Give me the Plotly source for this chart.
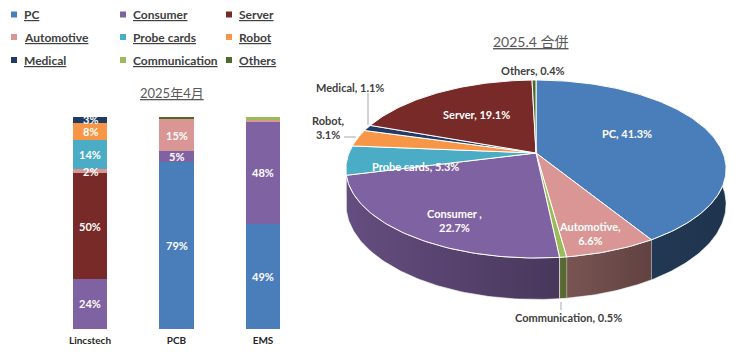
import numpy as np
import plotly.graph_objects as go

# ---------------- data ----------------
series_names = ["PC", "Consumer", "Server", "Automotive", "Probe cards",
                "Robot", "Medical", "Communication", "Others"]
series_colors = ["#4a7ebb", "#7f62a1", "#772a27", "#d99694", "#4bacc6",
                 "#f79646", "#1f3b66", "#9bbb59", "#4f6a28"]

bar_title = "2025年4月"
bar_categories = ["Lincstech", "PCB", "EMS"]
bar_pc = [0, 79, 49]
bar_consumer = [24, 5, 48]
bar_server = [50, 0, 0]
bar_automotive = [2, 15, 0.7]
bar_probe_cards = [14, 0, 0]
bar_robot = [8, 0, 0]
bar_medical = [3, 0, 0]
bar_communication = [0, 0, 1.6]
bar_others = [0, 1.3, 0]
bar_values = [bar_pc, bar_consumer, bar_server, bar_automotive, bar_probe_cards,
              bar_robot, bar_medical, bar_communication, bar_others]

pie_title = "2025.4 合併"
pie_labels = ["PC", "Automotive", "Communication", "Consumer", "Probe cards",
              "Robot", "Medical", "Server", "Others"]
pie_values = [41.3, 6.6, 0.5, 22.7, 5.3, 3.1, 1.1, 19.1, 0.4]
pie_texts = ["PC, 41.3%", "Automotive,<br>6.6%", "Communication, 0.5%",
             "Consumer ,<br>22.7%", "Probe cards, 5.3%", "Robot,<br>3.1%",
             "Medical, 1.1%", "Server, 19.1%", "Others, 0.4%"]

# ---------------- styling / layout helpers ----------------
W, H = 740, 354
FONT = "Lato, 'Noto Sans CJK TC', 'Noto Sans CJK SC', sans-serif"
DARK = "#404040"
color_of = dict(zip(series_names, series_colors))


def shade(hexc, f):
    h = hexc.lstrip("#")
    r, g, b = (int(h[i:i + 2], 16) for i in (0, 2, 4))
    return "rgb(%d,%d,%d)" % (r * f, g * f, b * f)


fig = go.Figure()

# ---------------- stacked bars ----------------
totals = np.sum(np.array(bar_values, dtype=float), axis=0)
for name, vals in zip(series_names, bar_values):
    fig.add_trace(go.Bar(
        x=bar_categories, y=vals, name=name, marker_color=color_of[name],
        marker_line_width=0, width=0.4, xaxis="x2", yaxis="y2",
        showlegend=False, hoverinfo="skip"))

annotations = []
cum = np.zeros(len(bar_categories))
for name, vals in zip(series_names, bar_values):
    v = np.array(vals, dtype=float)
    pct = v / totals * 100
    for i, cat in enumerate(bar_categories):
        if v[i] >= 2:
            annotations.append(dict(
                x=cat, y=cum[i] + pct[i] / 2, xref="x2", yref="y2",
                text="<b>%d%%</b>" % round(v[i]), showarrow=False,
                font=dict(family=FONT, size=11, color="white")))
    cum += pct

# ---------------- 3D-looking pie (projected ellipse) ----------------
cx, cy = 536.0, 153.0
Rx, Ry, k, D = 187.0, 86.1, 0.18, 34.0
tot = float(sum(pie_values))


def proj(theta):
    u, v = np.sin(theta), np.cos(theta)
    s = 1.0 / (1.0 + k * v)
    return cx + Rx * u * s, cy - Ry * v * s, s


bounds = np.concatenate([[0.0], np.cumsum(pie_values) / tot]) * 2 * np.pi
slices = []
for i, name in enumerate(pie_labels):
    t1, t2 = bounds[i], bounds[i + 1]
    n = max(4, int((t2 - t1) / (2 * np.pi) * 360))
    th = np.linspace(t1, t2, n)
    slices.append((name, th, np.cos((t1 + t2) / 2)))

# side faces, back first
for name, th, vmid in sorted(slices, key=lambda s: -s[2]):
    x, y, s = proj(th)
    xs = np.concatenate([x, x[::-1]])
    ys = np.concatenate([y, (y + D * s)[::-1]])
    c = color_of[name]
    fig.add_trace(go.Scatter(
        x=xs, y=ys, mode="lines", fill="toself",
        fillgradient=dict(type="horizontal", start=345, stop=725,
                          colorscale=[[0, shade(c, 0.8)], [0.57, shade(c, 0.57)],
                                      [0.8, shade(c, 0.45)], [1, shade(c, 0.42)]]),
        line=dict(color="rgba(255,255,255,0.8)", width=0.8),
        showlegend=False, hoverinfo="skip", xaxis="x", yaxis="y"))

# top faces
for name, th, vmid in slices:
    x, y, s = proj(th)
    xs = np.concatenate([[cx], x, [cx]])
    ys = np.concatenate([[cy], y, [cy]])
    fig.add_trace(go.Scatter(
        x=xs, y=ys, mode="lines", fill="toself", fillcolor=color_of[name],
        line=dict(color="white", width=1), showlegend=False,
        hoverinfo="skip", xaxis="x", yaxis="y"))

# pie labels
pie_label_pos = {
    "PC": (627, 133, "white"), "Automotive": (590, 233, "white"),
    "Communication": (568, 317, DARK), "Consumer": (454, 220, "white"),
    "Probe cards": (415, 166, "white"), "Robot": (328, 127, DARK),
    "Medical": (350, 87, DARK), "Server": (476, 114, "white"),
    "Others": (533, 70, DARK)}
for name, txt in zip(pie_labels, pie_texts):
    px_, py_, col = pie_label_pos[name]
    annotations.append(dict(
        x=px_, y=py_, xref="x", yref="y", text="<b>%s</b>" % txt,
        showarrow=False, align="center",
        font=dict(family=FONT, size=11, color=col)))

shapes = [
    dict(type="line", x0=368, y0=93, x1=368, y1=125, xref="x", yref="y",
         line=dict(color="#a6a6a6", width=1)),
    dict(type="line", x0=344, y0=137, x1=356, y1=137, xref="x", yref="y",
         line=dict(color="#a6a6a6", width=1)),
    dict(type="line", x0=561, y0=302, x1=561, y1=310, xref="x", yref="y",
         line=dict(color="#a6a6a6", width=1)),
]

# titles
annotations.append(dict(x=531, y=41, xref="x", yref="y",
                        text="<u>%s</u>" % pie_title, showarrow=False,
                        font=dict(family=FONT, size=14, color="#595959")))
annotations.append(dict(x=172, y=93, xref="x", yref="y",
                        text="<u>%s</u>" % bar_title, showarrow=False,
                        font=dict(family=FONT, size=13, color="#595959")))

# legend (3 columns)
col_x = [14, 123, 229]
row_y = [14.5, 37, 60]
for i, name in enumerate(series_names):
    lx, ly = col_x[i % 3], row_y[i // 3]
    shapes.append(dict(type="rect", x0=lx - 3, x1=lx + 3, y0=ly - 3, y1=ly + 3,
                       xref="x", yref="y", fillcolor=color_of[name],
                       line=dict(width=0)))
    annotations.append(dict(x=lx + 8, y=ly, xref="x", yref="y",
                            xanchor="left", yanchor="middle",
                            text="<b><u>%s</u></b>" % name, showarrow=False,
                            font=dict(family=FONT, size=12, color=DARK)))

fig.update_layout(
    width=W, height=H, autosize=False,
    margin=dict(l=0, r=0, t=0, b=0, pad=0),
    paper_bgcolor="white", plot_bgcolor="rgba(0,0,0,0)",
    barmode="stack", barnorm="percent", bargap=0.6,
    xaxis=dict(domain=[0, 1], range=[0, W], visible=False, fixedrange=True),
    yaxis=dict(domain=[0, 1], range=[H, 0], visible=False, fixedrange=True),
    xaxis2=dict(domain=[46.75 / W, 306.25 / W], anchor="y2", showgrid=False,
                zeroline=False, showline=False, ticks="",
                tickfont=dict(family=FONT, size=10, color="#262626"),
                tickprefix="<b>", ticksuffix="</b>", ticklabelstandoff=4),
    yaxis2=dict(domain=[(H - 329) / H, (H - 116.7) / H], anchor="x2",
                range=[0, 100], visible=False),
    annotations=annotations, shapes=shapes,
    font=dict(family=FONT),
)

fig.write_html("out.html")
